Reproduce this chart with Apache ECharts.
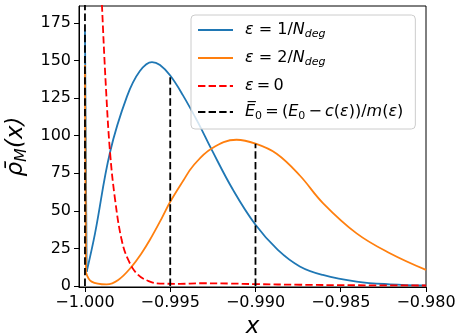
<!DOCTYPE html>
<html>
<head>
<meta charset="utf-8">
<script src="https://cdn.jsdelivr.net/npm/echarts@6/dist/echarts.min.js"></script>
<style>
  html, body { margin: 0; padding: 0; background: #fff; }
  #chart { width: 458px; height: 334px; }
</style>
</head>
<body>
<div id="chart"></div>
<script>
// Tick positions
const xTicks = [-1.000, -0.995, -0.990, -0.985, -0.980];
const yTicks = [0, 25, 50, 75, 100, 125, 150, 175];

// Density for epsilon = 1/N_deg (first point is the spike at x = -1)
const eps1X = [-1.00000, -0.99990, -0.99941, -0.99853, -0.99754, -0.99678, -0.99607, -0.99560, -0.99500,
               -0.99426, -0.99338, -0.99257, -0.99132, -0.99000, -0.98869, -0.98740, -0.98605, -0.98407,
               -0.98212, -0.98000];
const eps1Y = [170, 9.5, 35, 89, 126, 143, 149, 147, 140,
               127, 109, 90.7, 64, 40.7, 24, 13, 7.3, 2.9,
               1.1, 0.4];

// Density for epsilon = 2/N_deg (first point is the spike at x = -1)
const eps2X = [-1.00000, -0.99994, -0.99961, -0.99873, -0.99805, -0.99726, -0.99668, -0.99619, -0.99550,
               -0.99500, -0.99424, -0.99365, -0.99257, -0.99111, -0.99000, -0.98876, -0.98740, -0.98603,
               -0.98407, -0.98212, -0.98000];
const eps2Y = [147, 9, 2.9, 1.1, 4, 12.9, 21.8, 30.7, 45,
               56, 70, 80, 91.5, 97.3, 94.7, 88, 73.5, 55,
               35, 21.8, 10.7];

// Density for epsilon = 0
const eps0X = [-0.99930, -0.99900, -0.99877, -0.99853, -0.99824, -0.99785, -0.99746, -0.99688, -0.99619,
               -0.99560, -0.99443, -0.99326, -0.99150, -0.98998, -0.98740, -0.98447, -0.98000];
const eps0Y = [265, 186, 132, 89, 58, 30.7, 17.3, 7.3, 2.9,
               1.6, 1.4, 1.8, 1.6, 1.2, 0.8, 0.5, 0.3];

// Rescaled ground-state energies (vertical markers) and the height each one reaches
const ebarX = [-1.000, -0.995, -0.990];
const ebarTop = [200, 140, 94.7];

const zip = (xs, ys) => xs.map((x, i) => [x, ys[i]]);
const fmtX = v => (v < 0 ? '\u2212' : '') + Math.abs(v).toFixed(3);

const FONT = 'DejaVu Sans';
const dash = [7.4, 3.2];
const LW = 1.8;

const chart = echarts.init(document.getElementById('chart'), null, { renderer: 'canvas' });

const line = (name, data, color, type, smooth) => ({
  name: name,
  type: 'line',
  data: data,
  symbol: 'none',
  showSymbol: false,
  smooth: smooth,
  clip: true,
  lineStyle: { color: color, width: LW, type: type },
  itemStyle: { color: color },
  emphasis: { disabled: true },
  animation: false
});

const blue = zip(eps1X, eps1Y);
const orange = zip(eps2X, eps2Y);

const series = [
  // spike at the left edge, then the smooth body of each curve
  line('eps1', blue.slice(0, 2), '#1f77b4', 'solid', false),
  line('eps1', blue.slice(1), '#1f77b4', 'solid', 0.4),
  line('eps2', orange.slice(0, 2), '#ff7f0e', 'solid', false),
  line('eps2', orange.slice(1), '#ff7f0e', 'solid', 0.4),
  line('eps0', zip(eps0X, eps0Y), '#ff0000', dash, 0.4)
];
ebarX.forEach((x, i) => {
  series.push(line('ebar', [[x, 0], [x, ebarTop[i]]], '#000', dash, false));
});

const legendText = {
  eps1: '{i|\u03b5} = 1/{i|N}{sub|deg}',
  eps2: '{i|\u03b5} = 2/{i|N}{sub|deg}',
  eps0: '{i|\u03b5}\u2009=\u20090',
  ebar: '{i|E\u0305}{sub0|0}\u2009=\u2009({i|E}{sub0|0}\u2009\u2212\u2009{i|c}({i|\u03b5}))/{i|m}({i|\u03b5})'
};

chart.setOption({
  animation: false,
  grid: {
    left: 79, right: 32, top: 6, bottom: 47,
    outerBoundsMode: 'none', containLabel: false,
    show: true, borderColor: '#000', borderWidth: 1, backgroundColor: 'transparent'
  },
  xAxis: {
    type: 'value',
    min: -1.00035,
    max: -0.98,
    name: 'x',
    nameLocation: 'middle',
    nameGap: 28,
    nameTextStyle: { fontFamily: FONT, fontSize: 23, fontStyle: 'italic', color: '#000' },
    axisLine: { show: true, onZero: false, lineStyle: { color: '#000', width: 1 } },
    axisTick: { show: true, customValues: xTicks, length: 5, lineStyle: { color: '#000', width: 1 } },
    axisLabel: { customValues: xTicks, formatter: fmtX, fontFamily: FONT, fontSize: 16, color: '#000', margin: 8 },
    splitLine: { show: false }
  },
  yAxis: {
    type: 'value',
    min: -0.7,
    max: 186.3,
    name: '{i|\u03c1\u0304}{sub|M}{i|(x)}',
    nameLocation: 'middle',
    nameRotate: 90,
    nameGap: 44,
    nameTextStyle: {
      fontFamily: FONT, fontSize: 23, color: '#000',
      rich: {
        i: { fontFamily: FONT, fontSize: 23, fontStyle: 'italic', color: '#000', lineHeight: 28 },
        sub: { fontFamily: FONT, fontSize: 16, fontStyle: 'italic', color: '#000', lineHeight: 16, verticalAlign: 'bottom' }
      }
    },
    axisLine: { show: true, onZero: false, lineStyle: { color: '#000', width: 1 } },
    axisTick: { show: true, customValues: yTicks, length: 5, lineStyle: { color: '#000', width: 1 } },
    axisLabel: { customValues: yTicks, fontFamily: FONT, fontSize: 16, color: '#000', margin: 8 },
    splitLine: { show: false }
  },
  legend: {
    data: ['eps1', 'eps2', 'eps0', 'ebar'],
    orient: 'vertical',
    left: 191,
    top: 15,
    itemWidth: 35,
    itemHeight: 14,
    itemGap: 10,
    padding: [7, 12, 7, 6],
    backgroundColor: 'rgba(255,255,255,0.8)',
    borderColor: '#cccccc',
    borderWidth: 1,
    borderRadius: 4,
    selectedMode: false,
    itemStyle: { opacity: 0 },
    formatter: n => legendText[n],
    textStyle: {
      fontFamily: FONT, fontSize: 16, color: '#000', padding: [0, 0, 0, 7],
      rich: {
        i: { fontFamily: FONT, fontSize: 16, fontStyle: 'italic', color: '#000', lineHeight: 20 },
        sub: { fontFamily: FONT, fontSize: 11, fontStyle: 'italic', color: '#000', lineHeight: 12, verticalAlign: 'bottom' },
        sub0: { fontFamily: FONT, fontSize: 11, color: '#000', lineHeight: 12, verticalAlign: 'bottom' }
      }
    }
  },
  series: series
});
</script>
</body>
</html>
